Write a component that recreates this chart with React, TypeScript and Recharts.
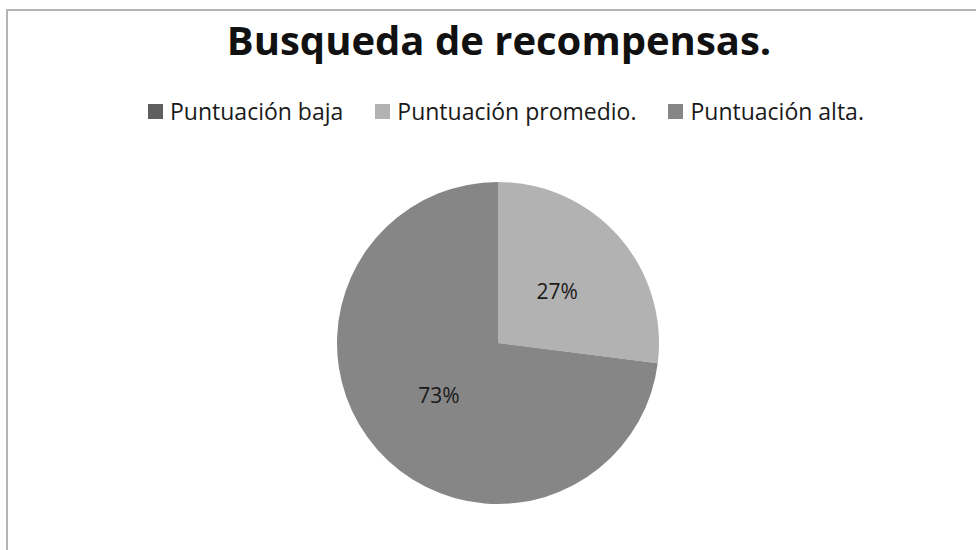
import React from "react";
import { PieChart, Pie, Cell } from "recharts";

const categories = ["Puntuación baja", "Puntuación promedio.", "Puntuación alta."];
const values = [0, 27, 73];
const colors = ["#5f5f5f", "#b2b2b2", "#868686"];

const data = categories.map((name, i) => ({ name, value: values[i] }));

const RADIAN = Math.PI / 180;
const font = "'Open Sans', sans-serif";

const renderLabel = (props: any) => {
    const { cx, cy, midAngle, outerRadius, value } = props;
    if (!value) return null;
    const r = outerRadius * 0.49;
    const x = cx + r * Math.cos(-midAngle * RADIAN);
    const y = cy + r * Math.sin(-midAngle * RADIAN);
    return (
        <text x={x} y={y} fill="#1a1a1a" textAnchor="middle" dominantBaseline="central"
            fontSize={21} fontFamily={font}>
            {value}%
        </text>
    );
};

const App: React.FC = () => {
    return (
        <div style={{ position: "absolute", left: 0, top: 0, width: 976, height: 550, background: "#fff", overflow: "hidden" }}>
            {/* frame */}
            <div style={{ position: "absolute", left: 6, top: 9, width: 980, height: 560, borderTop: "2px solid #b4b4b4", borderLeft: "2px solid #b4b4b4" }} />
            <div style={{ position: "absolute", left: 0, width: 998, top: 13, textAlign: "center", fontFamily: font, fontWeight: 700, fontSize: 40, color: "#111", lineHeight: "54px" }}>
                Busqueda de recompensas.
            </div>
            <div style={{ position: "absolute", left: 148, top: 95, display: "flex", gap: 32, fontFamily: font, fontSize: 23, color: "#1a1a1a", lineHeight: "32px", whiteSpace: "nowrap" }}>
                {categories.map((c, i) => (
                    <div key={c} style={{ display: "flex", alignItems: "center" }}>
                        <span style={{ width: 15, height: 15, background: colors[i], display: "inline-block", marginRight: 7 }} />
                        <span>{c}</span>
                    </div>
                ))}
            </div>
            <div style={{ position: "absolute", left: 0, top: 0 }}>
                <PieChart width={976} height={550} margin={{ top: 0, right: 0, bottom: 0, left: 0 }}>
                    <Pie
                        data={data}
                        dataKey="value"
                        nameKey="name"
                        cx={498}
                        cy={343}
                        outerRadius={161}
                        startAngle={90}
                        endAngle={-270}
                        stroke="none"
                        label={renderLabel}
                        labelLine={false}
                        isAnimationActive={false}
                    >
                        {data.map((d, i) => (
                            <Cell key={d.name} fill={colors[i]} />
                        ))}
                    </Pie>
                </PieChart>
            </div>
        </div>
    );
};

export default App;
